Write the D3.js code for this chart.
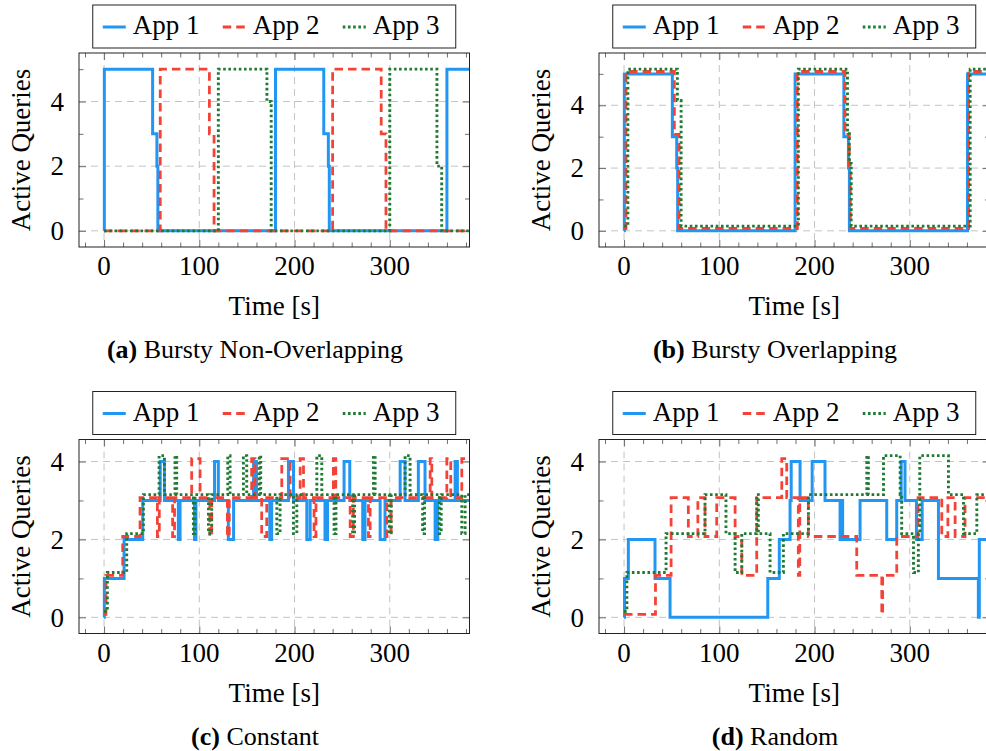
<!DOCTYPE html>
<html>
<head>
<meta charset="utf-8">
<script src="https://cdn.jsdelivr.net/npm/d3@7"></script>
<style>
  body { margin: 0; background: #fff; }
  text { font-family: "Liberation Serif", "Times New Roman", serif; fill: #000; }
</style>
</head>
<body>
<svg id="chart" width="986" height="751"></svg>
<script>
// ── Data: [time s, active queries] step points ───────────────────────────────
const APPS    = ["App 1", "App 2", "App 3"];
const COLORS  = ["#2196F3", "#F44336", "#1F7A33"];
const DASHES  = [null, "8.5,5", "2.6,2.6"];
const WIDTHS  = [3, 2.8, 2.9];

const X_DOMAIN = [-26.3, 383.7];
const X_MAJOR  = [0, 100, 200, 300];
const X_MINOR  = [-20, 20, 40, 60, 80, 120, 140, 160, 180, 220, 240, 260, 280, 320, 340, 360, 380];
const Y_MAJOR  = [0, 2, 4];

// (a) Bursty Non-Overlapping
const nonOverlap1 = [[0,0],[0.3,5],[51,3],[55.5,2],[56.5,0],[180,5],[230.7,3],[235.5,2],[236.5,0],[360,5]];
const nonOverlap2 = [[0,0],[59,5],[110.6,3],[115.5,0],[240,5],[291,3],[296,0]];
const nonOverlap3 = [[0,0],[120,5],[171,4],[175.5,0],[300,5],[349.5,2],[354.5,0]];

// (b) Bursty Overlapping
const overlap1 = [[0,0],[0.3,5],[50.7,3],[55.3,2],[56.3,0],[179.6,5],[230.8,3],[235.6,2],[236.6,0],[360.6,5]];
const overlap2 = [[0,0],[2,5],[52.8,3],[57.8,0],[182,5],[232,3],[236.5,2],[237.5,0],[361.7,5]];
const overlap3 = [[0,0],[4,5],[56,4],[59.9,0],[183,5],[234.6,3],[236.5,2],[238.5,0],[363.4,5]];

// (c) Constant
const constant1 = [[0,0],[0.3,1],[21,2],[40.6,3],[59,4],[63.4,3],[78,2],[79.8,3],[95,2],[96.5,3],[116,4],[120,3],
  [130.5,2],[136,3],[157,4],[160,3],[174,2],[176,3],[193.6,4],[198.9,3],[212.9,2],[216.4,3],[232,2],[234.6,3],
  [252,4],[258,3],[271.6,2],[274,3],[289.9,2],[295,3],[310.9,4],[316,3],[330,4],[337,3],[347.6,2],[350.4,3],
  [368.6,4],[371,3]];
const constant2 = [[0,0],[2,1],[19.6,2],[37.8,3],[56,2],[58,3],[72,2],[74,3],[92,4],[100.8,3],[111,2],[113,3],
  [129.5,2],[131.5,3],[155,4],[158.5,3],[165.5,2],[170.8,3],[186.6,4],[195.4,3],[205.9,4],[209.4,3],[220.5,2],
  [222.5,3],[240.8,4],[243.3,3],[258.4,2],[261.8,3],[277.6,2],[279.4,3],[296.9,2],[301.4,3],[342.4,4],[344.1,3],
  [359.9,4],[364,3],[375.6,4]];
const constant3 = [[0,0],[3.5,1],[23.8,2],[41.3,3],[57.8,4],[63.4,3],[74.5,4],[76.3,3],[93.8,2],[95.5,3],[109.6,2],
  [113,3],[129.9,4],[132.3,3],[146.3,4],[149.8,3],[163,4],[164.5,3],[181.4,2],[184.8,3],[198.9,2],[202.4,3],
  [223.4,4],[228.6,3],[241.5,2],[243.5,3],[261,2],[263,3],[282.9,4],[284.6,3],[299.5,2],[301.5,3],[316.1,4],
  [321.3,3],[334.5,2],[336.5,3],[352,2],[354,3],[375.6,2],[379.1,3]];

// (d) Random
const random1 = [[0,0],[0.5,1],[4.5,2],[32.5,1],[48.3,0],[150.9,1],[163,2],[174.3,3],[175.5,4],[184.8,3],[197.5,4],
  [211,3],[226.8,2],[228,3],[229.5,2],[247.8,3],[275.8,2],[286.3,3],[291,4],[295,3],[307,2],[313,3],[330.1,1],
  [372,0],[373,2]];
const random2 = [[0,0],[33,1],[49.4,3],[67.5,2],[77.5,3],[85,2],[97.3,3],[116.6,2],[123.6,1],[139.3,3],[165.6,4],
  [170.8,3],[183,1],[184.5,3],[193.5,2],[244.3,1],[270.6,0],[271.5,1],[286.3,2],[308.7,3],[333.6,2],[340,3],
  [347.6,2],[358,3]];
const random3 = [[0,0],[3,1],[44.1,2],[85,3],[107,2],[116.6,1],[123.6,2],[139.3,3],[141,2],[153.3,1],[167.3,2],
  [193.6,3],[254.9,4],[256.5,3],[272.4,4],[289.9,3],[291.5,2],[303.9,1],[309,2],[310.5,4],[340.6,3],[356.4,2],
  [370.4,3]];

// ── Layout ───────────────────────────────────────────────────────────────────
const W = 390.5, H = 194;
const panels = [
  { tag: "(a)", title: " Bursty Non-Overlapping", left: 79,  top: 53,    series: [nonOverlap1, nonOverlap2, nonOverlap3], offsets: [0, 0, 0] },
  { tag: "(b)", title: " Bursty Overlapping",     left: 599, top: 53,    series: [overlap1, overlap2, overlap3],           offsets: [0, 0.075, 0.15] },
  { tag: "(c)", title: " Constant",               left: 79,  top: 439.5, series: [constant1, constant2, constant3],        offsets: [0, 0.075, 0.15] },
  { tag: "(d)", title: " Random",                 left: 599, top: 439.5, series: [random1, random2, random3],              offsets: [0, 0.075, 0.15] },
];

const svg = d3.select("#chart");
svg.append("rect").attr("width", 986).attr("height", 751).attr("fill", "#fff");

function drawPanel(p, k) {
  const g = svg.append("g").attr("transform", `translate(${p.left},${p.top})`);

  const x = d3.scaleLinear().domain(X_DOMAIN).range([0, W]);
  const vals = p.series.flatMap((s, i) => s.map(d => d[1] + p.offsets[i]));
  const [lo, hi] = d3.extent(vals);
  const pad = (hi - lo) * 0.1;                       // pgfplots-style enlarge limits
  const y = d3.scaleLinear().domain([lo - pad, hi + pad]).range([H, 0]);
  const yMinor = d3.range(1, Math.floor(hi) + 1, 2);

  // grid
  const grid = g.append("g").attr("stroke", "#c4c4c4").attr("stroke-width", 1).attr("stroke-dasharray", "7,5");
  grid.selectAll(".gx").data(X_MAJOR).join("line")
    .attr("x1", d => x(d)).attr("x2", d => x(d)).attr("y1", 0).attr("y2", H);
  grid.selectAll(".gy").data(Y_MAJOR).join("line")
    .attr("y1", d => y(d)).attr("y2", d => y(d)).attr("x1", 0).attr("x2", W);

  // inward ticks on all four sides
  const ticks = (axis, vals, size, tr) => {
    const a = g.append("g").attr("transform", tr)
      .call(axis.tickValues(vals).tickSize(size).tickSizeOuter(0).tickFormat(""));
    a.select(".domain").remove();
    a.selectAll("line").attr("stroke", "#707070");
  };
  ticks(d3.axisBottom(x), X_MAJOR, -7, `translate(0,${H})`);
  ticks(d3.axisBottom(x), X_MINOR, -4.5, `translate(0,${H})`);
  ticks(d3.axisTop(x), X_MAJOR, -7, "translate(0,0)");
  ticks(d3.axisTop(x), X_MINOR, -4.5, "translate(0,0)");
  ticks(d3.axisLeft(y), Y_MAJOR, -7, "translate(0,0)");
  ticks(d3.axisLeft(y), yMinor, -4.5, "translate(0,0)");
  ticks(d3.axisRight(y), Y_MAJOR, -7, `translate(${W},0)`);
  ticks(d3.axisRight(y), yMinor, -4.5, `translate(${W},0)`);

  // lines
  const clipId = "clip" + k;
  g.append("clipPath").attr("id", clipId).append("rect").attr("width", W).attr("height", H);
  const line = d3.line().curve(d3.curveStepAfter).x(d => x(d[0])).y(d => y(d[1]));
  p.series.forEach((s, i) => {
    const pts = s.map(d => [d[0], d[1] + p.offsets[i]]);
    pts.push([X_DOMAIN[1], pts[pts.length - 1][1]]);
    g.append("path").attr("clip-path", `url(#${clipId})`)
      .attr("d", line(pts))
      .attr("fill", "none")
      .attr("stroke", COLORS[i])
      .attr("stroke-width", WIDTHS[i])
      .attr("stroke-dasharray", DASHES[i]);
  });

  // frame
  g.append("rect").attr("width", W).attr("height", H)
    .attr("fill", "none").attr("stroke", "#222").attr("stroke-width", 1);

  // tick labels
  g.selectAll(".xl").data(X_MAJOR).join("text")
    .attr("x", d => x(d)).attr("y", H + 28)
    .attr("text-anchor", "middle").style("font-size", "27px").text(d => d);
  g.selectAll(".yl").data(Y_MAJOR).join("text")
    .attr("x", -15).attr("y", d => y(d)).attr("dy", "0.34em")
    .attr("text-anchor", "end").style("font-size", "27px").text(d => d);

  // axis titles
  g.append("text").attr("x", W / 2).attr("y", H + 68)
    .attr("text-anchor", "middle").style("font-size", "27px").text("Time [s]");
  g.append("text").attr("transform", `translate(-49,${H / 2}) rotate(-90)`)
    .attr("text-anchor", "middle").style("font-size", "27px").text("Active Queries");

  // caption
  const cap = g.append("text").attr("x", 176).attr("y", H + 111)
    .attr("text-anchor", "middle").style("font-size", "26px");
  cap.append("tspan").attr("font-weight", "bold").text(p.tag);
  cap.append("tspan").text(p.title);

  // legend
  const lg = g.append("g").attr("transform", `translate(${W / 2 - 181.5},-48)`);
  lg.append("rect").attr("width", 363).attr("height", 43)
    .attr("fill", "#fff").attr("stroke", "#222").attr("stroke-width", 1);
  APPS.forEach((name, i) => {
    const e = lg.append("g").attr("transform", `translate(${10 + i * 120},0)`);
    e.append("line").attr("x1", 0).attr("x2", 23).attr("y1", 22).attr("y2", 22)
      .attr("stroke", COLORS[i]).attr("stroke-width", WIDTHS[i]).attr("stroke-dasharray", DASHES[i]);
    e.append("text").attr("x", 30).attr("y", 29).style("font-size", "27px").text(name);
  });
}

panels.forEach(drawPanel);
</script>
</body>
</html>
